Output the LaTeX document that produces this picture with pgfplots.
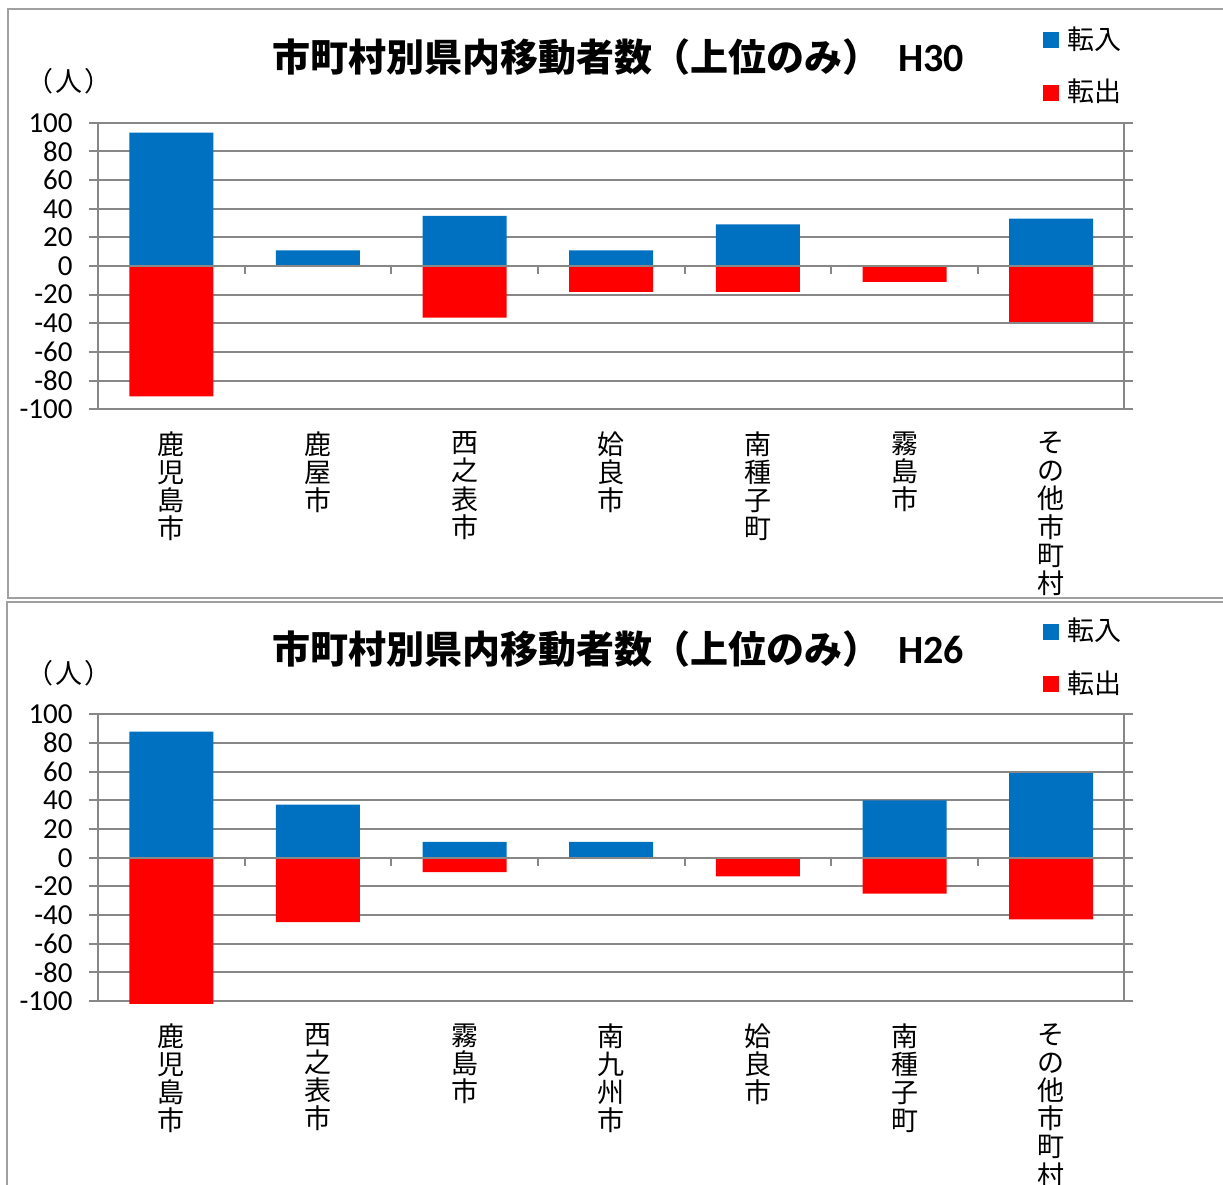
\documentclass[border=0pt]{standalone}
\usepackage{fontspec}
\setmainfont{Carlito}
\newfontfamily\jp{Noto Sans CJK JP}
\usepackage{pgfplots}
\pgfplotsset{compat=1.18}

\definecolor{inblue}{HTML}{0070C0}
\definecolor{outred}{HTML}{FF0000}
\definecolor{gridgray}{HTML}{878787}
\definecolor{framegray}{HTML}{A0A0A0}

\pgfplotsset{
  sq/.style={legend image code/.code={\fill[##1] (0pt,0.5pt) rectangle (8pt,8.5pt);}},
  migration/.style={
    scale only axis, width=513.25pt, height=143.3pt,
    anchor=south west,
    xmin=-0.5, xmax=6.5, ymin=-100, ymax=100,
    ytick={-100,-80,...,100},
    yticklabels={-100,-80,-60,-40,-20,0,20,40,60,80,100},
    xtick={0,...,6},
    ymajorgrids, grid style={gridgray, line width=1pt},
    axis line style={gridgray, line width=1pt},
    tick align=outside, major tick length=4.5pt,
    ytick pos=both, yticklabel pos=left,
    y tick style={gridgray, line width=1pt},
    x tick style={draw=none},
    yticklabel style={font=\fontsize{14.5}{15}\selectfont, inner sep=0pt, anchor=east, xshift=-8pt},
    xticklabel style={font=\jp\fontsize{13.5}{14.1}\selectfont, align=center, anchor=north, inner sep=0pt, yshift=-6.5pt},
    ybar, bar width=42pt,
    clip=false,
    legend style={draw=none, fill=none, inner sep=0pt, anchor=north west,
      at={(0.9206,1.3374)}, font=\jp\fontsize{13.5}{14}\selectfont,
      nodes={inner sep=0pt, anchor=base west}, row sep=13.5pt,
      /tikz/every odd column/.style={column sep=4pt}},
    legend cell align=left,
  }
}

\begin{document}
\begin{tikzpicture}
\useasboundingbox (0,0) rectangle (611.5pt,-592.5pt);
\clip (0,0) rectangle (611.5pt,-592.5pt);
% panel frames
\draw[framegray, line width=1pt] (4pt,-4.6pt) rectangle (650pt,-299.2pt);
\draw[framegray, line width=1pt] (3.4pt,-300.8pt) rectangle (650pt,-650pt);

% ---- H30 ----
\node[anchor=west, inner sep=0pt, font=\jp\bfseries\fontsize{19}{20}\selectfont]
  at (136pt,-28.5pt) {市町村別県内移動者数（上位のみ）\hspace{9pt}{\rmfamily\bfseries\fontsize{20}{21}\selectfont H30}};
\node[anchor=west, inner sep=0pt, font=\jp\fontsize{13.5}{14}\selectfont]
  at (13pt,-40.5pt) {（\kern1pt 人\kern1pt）};
\begin{axis}[migration, at={(49pt,-204.65pt)},
  xticklabels={{鹿\\児\\島\\市},{鹿\\屋\\市},{西\\之\\表\\市},{姶\\良\\市},{南\\種\\子\\町},{霧\\島\\市},{そ\\の\\他\\市\\町\\村}}]
\addplot[fill=inblue, draw=none, bar shift=0pt, sq] coordinates {(0,93) (1,11) (2,35) (3,11) (4,29) (6,33)};
\addplot[fill=outred, draw=none, bar shift=0pt, sq] coordinates {(0,-91) (2,-36) (3,-18) (4,-18) (5,-11) (6,-39)};
\legend{転入,転出}
\draw[gridgray, line width=1pt] (axis cs:-0.5,0) -- (axis cs:6.5,0);
\pgfplotsinvokeforeach{-0.5,0.5,...,6.5}{\draw[gridgray, line width=1pt] (axis cs:#1,0) -- ([yshift=-4pt]axis cs:#1,0);}
\end{axis}

% ---- H26 ----
\node[anchor=west, inner sep=0pt, font=\jp\bfseries\fontsize{19}{20}\selectfont]
  at (136pt,-324.5pt) {市町村別県内移動者数（上位のみ）\hspace{9pt}{\rmfamily\bfseries\fontsize{20}{21}\selectfont H26}};
\node[anchor=west, inner sep=0pt, font=\jp\fontsize{13.5}{14}\selectfont]
  at (13pt,-336.5pt) {（\kern1pt 人\kern1pt）};
\begin{axis}[migration, at={(49pt,-500.5pt)},
  xticklabels={{鹿\\児\\島\\市},{西\\之\\表\\市},{霧\\島\\市},{南\\九\\州\\市},{姶\\良\\市},{南\\種\\子\\町},{そ\\の\\他\\市\\町\\村}}]
\addplot[fill=inblue, draw=none, bar shift=0pt, sq] coordinates {(0,88) (1,37) (2,11) (3,11) (5,40) (6,59)};
\addplot[fill=outred, draw=none, bar shift=0pt, sq] coordinates {(0,-102) (1,-45) (2,-10) (4,-13) (5,-25) (6,-43)};
\legend{転入,転出}
\draw[gridgray, line width=1pt] (axis cs:-0.5,0) -- (axis cs:6.5,0);
\pgfplotsinvokeforeach{-0.5,0.5,...,6.5}{\draw[gridgray, line width=1pt] (axis cs:#1,0) -- ([yshift=-4pt]axis cs:#1,0);}
\end{axis}
\end{tikzpicture}
\end{document}
